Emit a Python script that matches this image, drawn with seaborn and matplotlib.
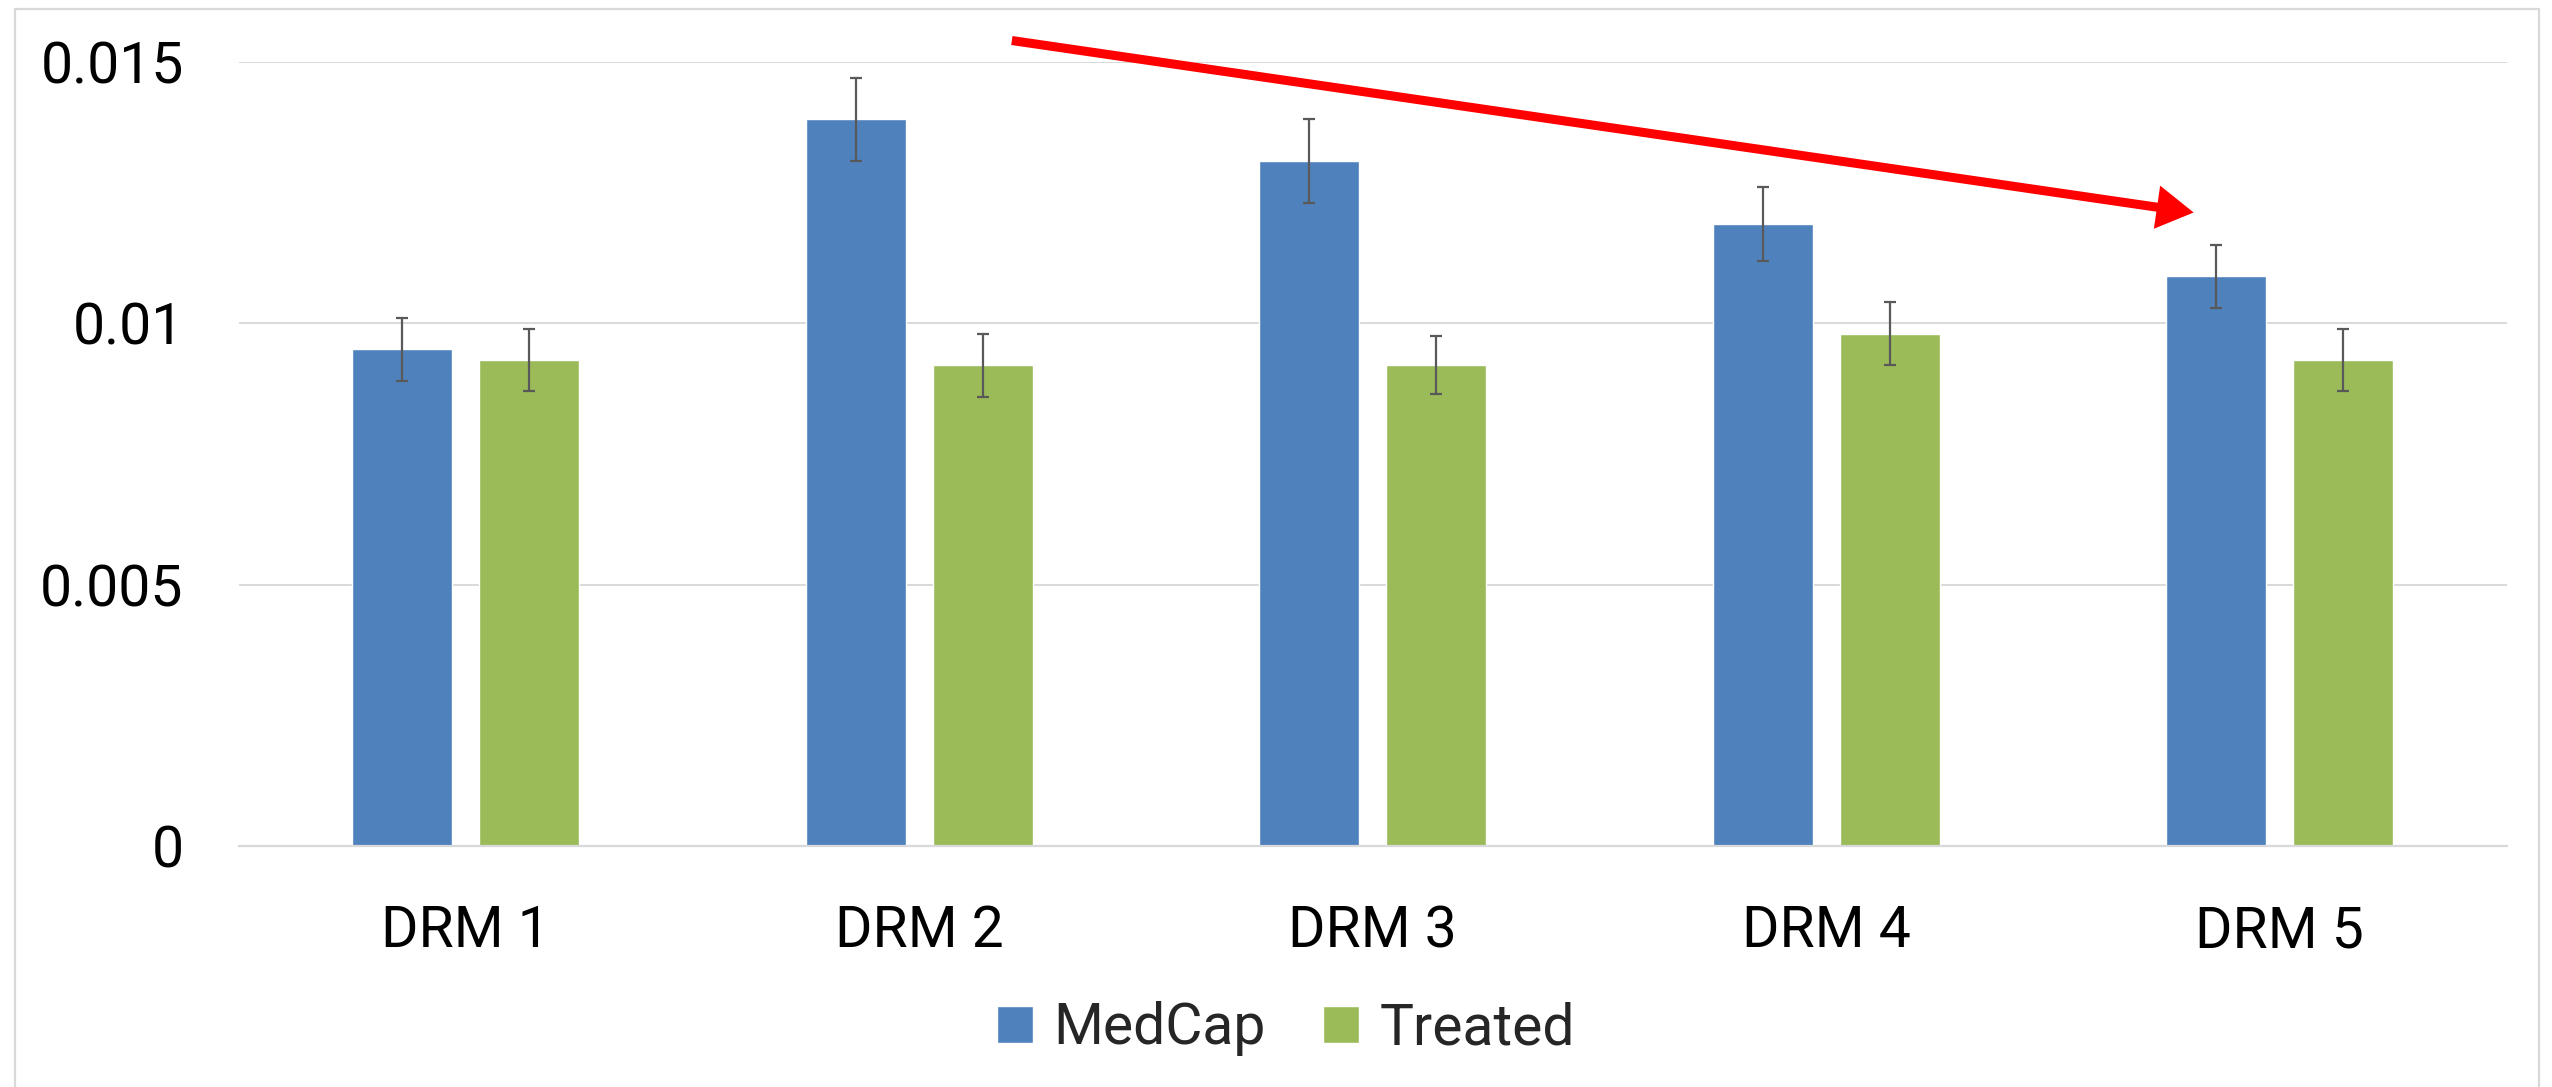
import matplotlib
matplotlib.use("Agg")
import matplotlib.pyplot as plt
import seaborn as sns
import pandas as pd
from matplotlib.patches import Rectangle

# ---- data ----
categories = ["DRM 1", "DRM 2", "DRM 3", "DRM 4", "DRM 5"]
series = ["MedCap", "Treated"]
medcap = [0.0095, 0.0139, 0.0131, 0.0119, 0.0109]
medcap_err = [0.0006, 0.0008, 0.0008, 0.0007, 0.0006]
treated = [0.0093, 0.0092, 0.0092, 0.0098, 0.0093]
treated_err = [0.0006, 0.0006, 0.00055, 0.0006, 0.0006]
ytick_values = [0, 0.005, 0.01, 0.015]
ytick_labels = ["0", "0.005", "0.01", "0.015"]
arrow_start = (1.204, 0.01541)
arrow_end = (3.81, 0.01212)

colors = ["#4F81BD", "#9BBB59"]

df = pd.DataFrame({
    "category": categories * 2,
    "series": [series[0]] * len(categories) + [series[1]] * len(categories),
    "value": medcap + treated,
})

sns.set_theme(style="white")
plt.rcParams["font.family"] = ["Roboto", "DejaVu Sans"]

fig = plt.figure(figsize=(25.52, 10.87), dpi=100)
ax = fig.add_axes([0.0937, 0.2216, 0.8885, 0.7214])

sns.barplot(data=df, x="category", y="value", hue="series", order=categories,
            hue_order=series, palette=colors, width=0.56, gap=0.214,
            errorbar=None, legend=False, ax=ax, saturation=1)

for cont, errs in zip(ax.containers, [medcap_err, treated_err]):
    xs = [p.get_x() + p.get_width() / 2 for p in cont.patches]
    ys = [p.get_height() for p in cont.patches]
    ax.errorbar(xs, ys, yerr=errs, fmt="none", ecolor="#595959",
                elinewidth=1.6, capsize=4.5, capthick=1.6, zorder=5)

ax.set_xlim(-0.5, 4.5)
ax.set_ylim(0, 0.015)
ax.set_yticks(ytick_values)
ax.set_yticklabels(ytick_labels)
ax.set_xlabel("")
ax.set_ylabel("")
ax.tick_params(axis="y", length=0, pad=40, labelsize=41, labelcolor="black")
ax.tick_params(axis="x", length=0, pad=42, labelsize=41, labelcolor="black")
ax.yaxis.grid(True, color="#D9D9D9", linewidth=1.4)
ax.set_axisbelow(True)
for s in ["left", "right", "top"]:
    ax.spines[s].set_visible(False)
ax.spines["bottom"].set_color("#D9D9D9")
ax.spines["bottom"].set_linewidth(1.6)

ax.annotate("", xy=arrow_end, xytext=arrow_start, xycoords="data",
            textcoords="data", annotation_clip=False,
            arrowprops=dict(arrowstyle="-|>,head_length=0.85,head_width=0.5",
                            color="#FF0000", lw=6.5, mutation_scale=20,
                            shrinkA=0, shrinkB=0, capstyle="butt",
                            joinstyle="miter"))

fig.legend(handles=ax.containers, labels=series, loc="center",
           bbox_to_anchor=(1286 / 2552, 0.0534), ncol=2, frameon=False,
           fontsize=41, handlelength=0.63, handleheight=0.63,
           handletextpad=0.37, columnspacing=1.0)

fig.patches.append(Rectangle((0.0059, -0.02), 0.989, 1.0117, transform=fig.transFigure,
                             fill=False, edgecolor="#D9D9D9", linewidth=1.6))

fig.savefig("out.png", dpi=100, facecolor="white")
